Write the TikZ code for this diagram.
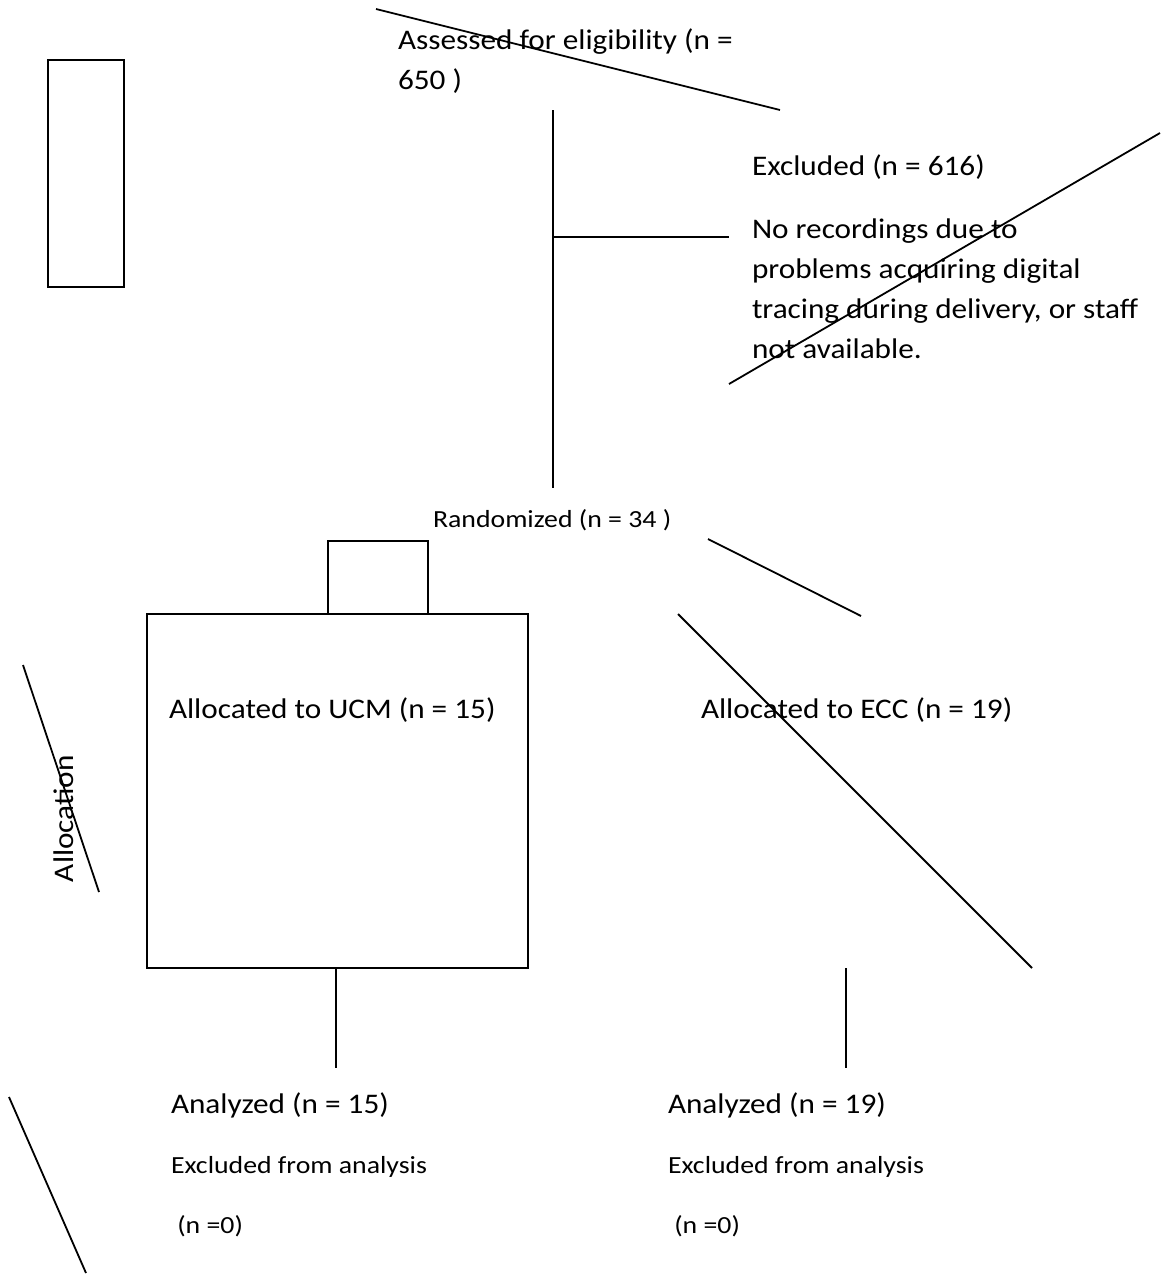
\documentclass[tikz,border=0pt]{standalone}
\usepackage{fontspec}
\setmainfont{Carlito}[FakeStretch=1.1]
\newfontfamily\smallfamily{Carlito}[FakeStretch=1.13]
\usepackage{tikz}
\usetikzlibrary{positioning}

\begin{document}
\begin{tikzpicture}[
  x=0.5pt, y=-0.5pt,
  every node/.style={inner sep=0pt, outer sep=0pt},
  label/.style={anchor=base west, font=\fontsize{14.2}{20}\selectfont, align=left},
  smalllabel/.style={anchor=base west, font=\smallfamily\fontsize{12.3}{18}\selectfont},
  box/.style={draw, line width=0.9pt, rectangle, anchor=north west},
  link/.style={line width=0.9pt, black}
]
\useasboundingbox (0,0) rectangle (1162,1275);

% boxes
\node[box, minimum width=38pt, minimum height=113.5pt] (sidebox) at (48,60) {};
\node[box, minimum width=50pt, minimum height=36.5pt] (tabbox) at (328,541) {};
\node[box, minimum width=190.5pt, minimum height=177pt] (ucmbox) at (147,614) {};

% texts
\node[label] (assess) at (398,49) {Assessed for eligibility (n =};
\node[label] (assess2) at (398,89) {650 )};
\node[label] (excl) at (752,175) {Excluded (n = 616)};
\node[label] (reason1) at (752,238) {No recordings due to};
\node[label] (reason2) at (752,278) {problems acquiring digital};
\node[label] (reason3) at (752,318) {tracing during delivery, or staff};
\node[label] (reason4) at (752,358) {not available.};
\node[smalllabel] (rand) at (433,527) {Randomized (n = 34 )};
\node[label] (ucm) at (169,718) {Allocated to UCM (n = 15)};
\node[label] (ecc) at (701,718) {Allocated to ECC (n = 19)};
\node[label, rotate=90] (alloc) at (73,882) {Allocation};
\node[label] (anaA) at (171,1113) {Analyzed (n = 15)};
\node[smalllabel] (exA) at (171,1173) {Excluded from analysis};
\node[smalllabel] (nA) at (171,1233) {\ (n =0)};
\node[label] (anaB) at (668,1113) {Analyzed (n = 19)};
\node[smalllabel] (exB) at (668,1173) {Excluded from analysis};
\node[smalllabel] (nB) at (668,1233) {\ (n =0)};

% free ends
\coordinate (trunkTop) at (553,110);
\coordinate (trunkBot) at (553,488);
\coordinate (branch) at (553,237);
\coordinate (branchEnd) at (729,237);
\coordinate (ucmFoot) at (336,1068);
\coordinate (eccTop) at (846,968);
\coordinate (eccFoot) at (846,1068);

% stray strokes
\coordinate (s1a) at (376,9);    \coordinate (s1b) at (780,110);
\coordinate (s2a) at (729,384);  \coordinate (s2b) at (1160,133);
\coordinate (s3a) at (708,539);  \coordinate (s3b) at (861,616);
\coordinate (s4a) at (678,614);  \coordinate (s4b) at (1032,968);
\coordinate (s5a) at (23,665);   \coordinate (s5b) at (99,892);
\coordinate (s6a) at (9,1097);   \coordinate (s6b) at (86,1273);

\draw[link] (trunkTop) -- (trunkBot);
\draw[link] (branch) -- (branchEnd);
\draw[link] (ucmFoot |- ucmbox.south) -- (ucmFoot);
\draw[link] (eccTop) -- (eccFoot);
\draw[link] (s1a) -- (s1b);
\draw[link] (s2a) -- (s2b);
\draw[link] (s3a) -- (s3b);
\draw[link] (s4a) -- (s4b);
\draw[link] (s5a) -- (s5b);
\draw[link] (s6a) -- (s6b);
\end{tikzpicture}
\end{document}
